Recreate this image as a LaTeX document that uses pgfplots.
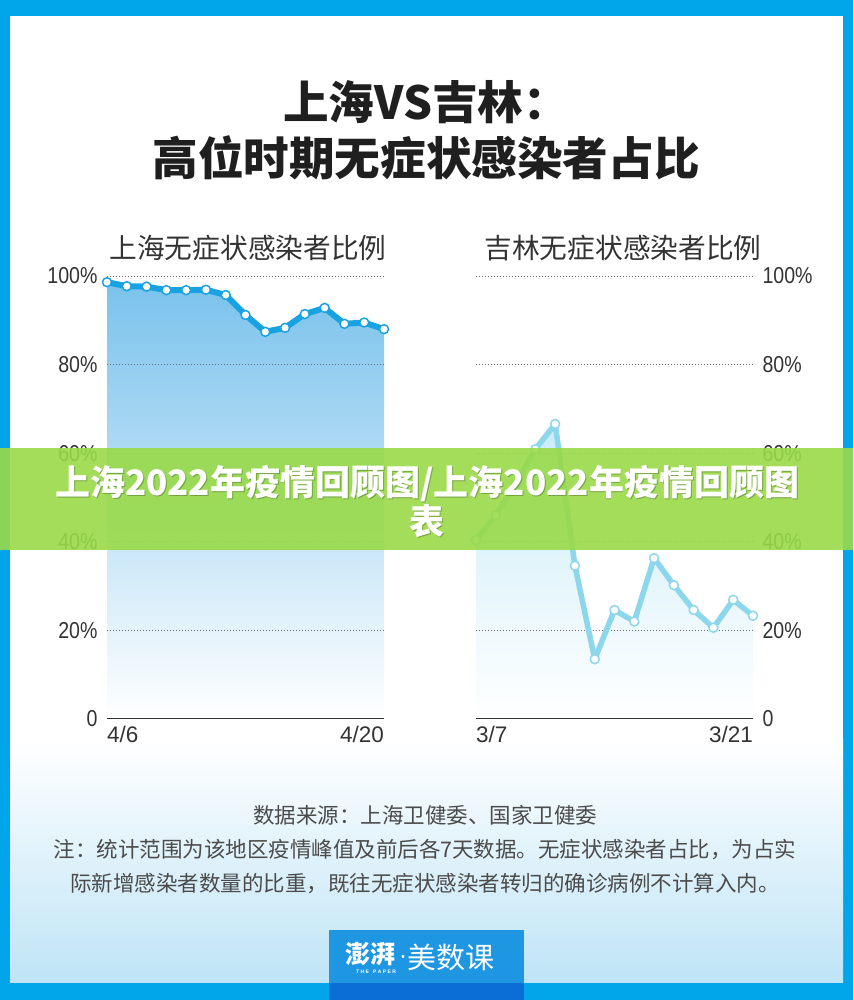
\documentclass[border=0pt]{standalone}
\usepackage{pgfplots}
\pgfplotsset{compat=1.18}
\usepackage{pgfplotstable}
\usepackage{fontspec}
\setmainfont{Liberation Sans}
\newfontfamily\cjk{Noto Sans CJK SC}
\newfontfamily\num[FakeStretch=0.85]{Liberation Sans}

\definecolor{framec}{RGB}{0,166,233}
\definecolor{shline}{RGB}{24,162,226}
\definecolor{shfill}{RGB}{122,194,236}
\definecolor{jlline}{RGB}{140,215,235}
\definecolor{jlfill}{RGB}{200,236,248}
\definecolor{gridc}{RGB}{110,110,110}
\definecolor{txt}{RGB}{51,51,51}
\definecolor{note}{RGB}{75,75,75}
\definecolor{band}{RGB}{153,218,72}
\definecolor{logoc}{RGB}{30,150,225}
\definecolor{logodark}{RGB}{10,110,214}
\definecolor{paleblue}{RGB}{190,228,246}

% Shanghai, 4/6 .. 4/20
\pgfplotstableread{
d v
0 98.6
1 97.7
2 97.6
3 96.8
4 96.8
5 96.9
6 95.7
7 91.2
8 87.4
9 88.3
10 91.4
11 92.8
12 89.2
13 89.5
14 88.0
}\shanghai

% Jilin, 3/7 .. 3/21
\pgfplotstableread{
d v
0 40.4
1 46.0
2 53.0
3 60.9
4 66.6
5 34.6
6 13.5
7 24.6
8 22.0
9 36.3
10 30.2
11 24.6
12 20.6
13 26.9
14 23.3
}\jilin

\pgfplotsset{
  panel/.style={
    scale only axis, width=277pt, height=443pt,
    xmin=0, xmax=14, ymin=0, ymax=100,
    axis line style={draw=none},
    major tick length=0pt,
    xtick={0,14}, ytick={0,20,40,60,80,100},
    yticklabels={0,20\%,40\%,60\%,80\%,100\%},
    yticklabel style={font=\num\fontsize{23}{23}\selectfont, text=txt},
    xticklabel style={font=\fontsize{22.5}{22.5}\selectfont, text=txt, yshift=-4pt},
    clip=false,
    anchor=south west,
  },
}

\begin{document}
\begin{tikzpicture}[x=1pt,y=1pt]
\useasboundingbox (0,0) rectangle (853,1000);
% frame and panel
\fill[framec] (0,0) rectangle (853,1000);
\fill[white] (10,17) rectangle (843,984);
\shade[top color=white, bottom color=paleblue] (10,17) rectangle (843,260);

% titles
\node[font=\cjk\bfseries\fontsize{45.6}{56}\selectfont, text=black!88, align=center]
  at (426,870) {上海VS吉林：\\高位时期无症状感染者占比};
\node[font=\cjk\fontsize{27.7}{30}\selectfont, text=txt] at (248,752) {上海无症状感染者比例};
\node[font=\cjk\fontsize{27.7}{30}\selectfont, text=txt] at (623,752) {吉林无症状感染者比例};

% Shanghai
\begin{axis}[panel, at={(107pt,281pt)}, yticklabel style={xshift=-6pt},
  xticklabels={\makebox[0pt][l]{4/6},\makebox[0pt][r]{4/20}}]
\addplot[draw=none, top color=shfill, bottom color=white] table[x=d,y=v]{\shanghai} \closedcycle;
\pgfplotsinvokeforeach{20,40,60,80,100}{
  \draw[gridc, dash pattern=on 1pt off 2pt, line width=0.8pt] (axis cs:0,#1) -- (axis cs:14,#1);}
\draw[txt, line width=1pt] (axis cs:0,0) -- (axis cs:14,0);
\addplot[shline, line width=6pt, line join=round, mark=*, mark size=4.5pt,
  mark options={fill=white, draw=shline, line width=1.5pt}] table[x=d,y=v]{\shanghai};
\end{axis}

% Jilin
\begin{axis}[panel, at={(476pt,281pt)}, yticklabel pos=right, yticklabel style={xshift=6pt},
  xticklabels={\makebox[0pt][l]{3/7},\makebox[0pt][r]{3/21}}]
\addplot[draw=none, top color=jlfill, bottom color=white] table[x=d,y=v]{\jilin} \closedcycle;
\pgfplotsinvokeforeach{20,40,60,80,100}{
  \draw[gridc, dash pattern=on 1pt off 2pt, line width=0.8pt] (axis cs:0,#1) -- (axis cs:14,#1);}
\draw[txt, line width=1pt] (axis cs:0,0) -- (axis cs:14,0);
\addplot[jlline, line width=5.5pt, line join=round, mark=*, mark size=4.5pt,
  mark options={fill=white, draw=jlline, line width=1.5pt}] table[x=d,y=v]{\jilin};
\end{axis}

% footnotes
\node[font=\cjk\fontsize{21.5}{34}\selectfont, text=note, align=center] at (425,150)
  {数据来源：上海卫健委、国家卫健委\\
   注：统计范围为该地区疫情峰值及前后各7天数据。无症状感染者占比，为占实\\
   际新增感染者数量的比重，既往无症状感染者转归的确诊病例不计算入内。};

% logo
\fill[logoc] (329,17) rectangle (524,70);
\fill[logodark] (329,0) rectangle (524,17);
\node[font=\cjk\bfseries\fontsize{25}{25}\selectfont, text=white, anchor=east] at (399,46) {澎湃};
\node[font=\fontsize{24}{24}\selectfont, text=white] at (403,40) {·};
\node[font=\cjk\fontsize{29}{29}\selectfont, text=white, anchor=west, inner sep=0pt] at (407,43) {美数课};
\node[font=\fontsize{5}{5}\selectfont\bfseries, text=white] at (376,28) {T H E \ \ P A P E R};

% overlay band
\fill[band, opacity=0.9] (0,450) rectangle (853,552);
\node[font=\cjk\bfseries\fontsize{35}{39}\selectfont, text=black, opacity=0.25, align=center]
  at (428,497) {上海2022年疫情回顾图/上海2022年疫情回顾图\\表};
\node[font=\cjk\bfseries\fontsize{35}{39}\selectfont, text=white, align=center]
  at (427,498) {上海2022年疫情回顾图/上海2022年疫情回顾图\\表};
\end{tikzpicture}
\end{document}
